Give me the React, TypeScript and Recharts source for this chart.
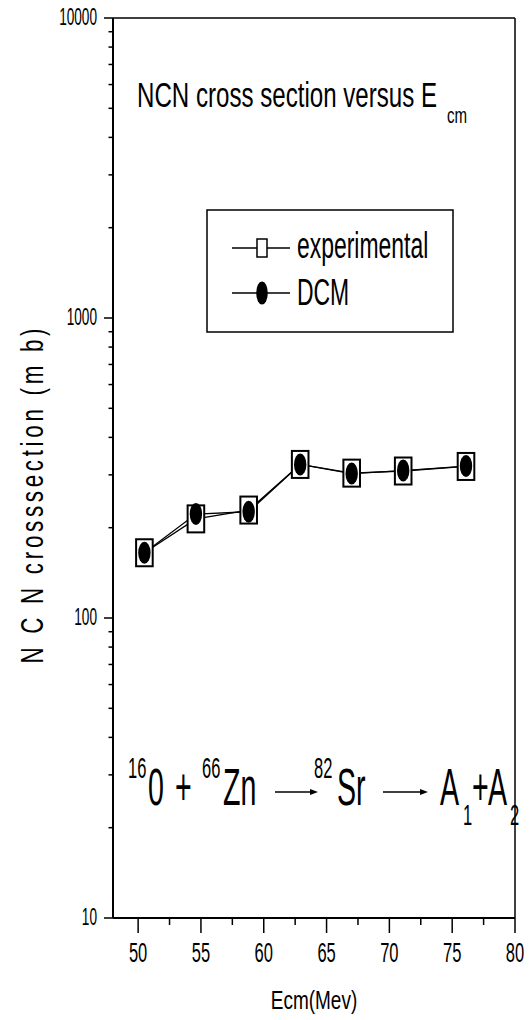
import React from 'react'
import { LineChart, Line, XAxis, YAxis, ReferenceLine } from 'recharts'

// NCN cross sections (mb) against centre-of-mass energy (MeV)
const energies = [50.5, 54.6, 58.8, 62.9, 67.0, 71.1, 76.1]
const experimental = [165, 214, 229, 325, 304, 309, 320]
const dcm = [165, 222, 226, 325, 303, 310, 321]

const xTicks = [50, 52.5, 55, 57.5, 60, 62.5, 65, 67.5, 70, 72.5, 75, 77.5, 80]
const decades = [10, 100, 1000]
const yTicks = [...decades.flatMap((d) => [1, 2, 3, 4, 5, 6, 7, 8, 9].map((m) => m * d)), 10000]

const expRows = energies.map((x, i) => ({ x, y: experimental[i] }))
const dcmRows = energies.map((x, i) => ({ x, y: dcm[i] }))

const W = 529
const H = 1020
const AXIS_X = 113 // left edge of the plot (YAxis width)
const FONT = 'Liberation Sans, Arial, sans-serif'

// the whole figure is tall and narrow, so text is squeezed horizontally
function Squeezed({ x, y, size, sx, anchor = 'start', children }: any) {
  return (
    <text transform={`translate(${x} ${y}) scale(${sx} 1)`} fontSize={size} textAnchor={anchor}
      fontFamily={FONT} fill="#000">
      {children}
    </text>
  )
}

const YTick = ({ y, payload }: any) => {
  const major = Number.isInteger(Math.log10(payload.value))
  const x = AXIS_X
  return (
    <g>
      <line x1={x - (major ? 9 : 4.5)} x2={x} y1={y} y2={y} stroke="#000" strokeWidth={1.5} />
      {major && <Squeezed x={x - 16} y={y + 7} size={23.5} sx={0.58} anchor="end">{payload.value}</Squeezed>}
    </g>
  )
}

const XTick = ({ x, y, payload }: any) => {
  const major = payload.value % 5 === 0
  return (
    <g>
      <line x1={x} x2={x} y1={y} y2={y + (major ? 15 : 7)} stroke="#000" strokeWidth={1.5} />
      {major && <Squeezed x={x} y={y + 44} size={28} sx={0.59} anchor="middle">{payload.value}</Squeezed>}
    </g>
  )
}

const squareDot = (p: any) => (
  <rect key={`sq-${p.index}`} x={p.cx - 8.3} y={p.cy - 13.5} width={16.6} height={27}
    fill="#fff" stroke="#000" strokeWidth={2} />
)

const circleDot = (p: any) => (
  <ellipse key={`ci-${p.index}`} cx={p.cx} cy={p.cy} rx={6.2} ry={11} fill="#000" />
)

function Arrow({ x1, x2, y }: { x1: number; x2: number; y: number }) {
  return (
    <g>
      <line x1={x1} x2={x2 - 6} y1={y} y2={y} stroke="#000" strokeWidth={1.5} />
      <path d={`M${x2 - 8},${y - 3} L${x2},${y} L${x2 - 8},${y + 3} Z`} fill="#000" />
    </g>
  )
}

function Annotations() {
  return (
    <svg width={W} height={H} style={{ position: 'absolute', left: 0, top: 0, pointerEvents: 'none' }}>
      {/* title */}
      <Squeezed x={137} y={107} size={36} sx={0.67}>NCN cross section versus E</Squeezed>
      <Squeezed x={447} y={123} size={22.5} sx={0.67}>cm</Squeezed>

      {/* legend */}
      <rect x={207} y={210} width={246} height={122} fill="#fff" stroke="#000" strokeWidth={1.5} />
      <line x1={232} x2={290} y1={248} y2={248} stroke="#000" strokeWidth={1.3} />
      <rect x={257} y={239} width={10} height={18} fill="#fff" stroke="#000" strokeWidth={1.5} />
      <Squeezed x={297} y={258} size={37} sx={0.62}>experimental</Squeezed>
      <line x1={232} x2={290} y1={293} y2={293} stroke="#000" strokeWidth={1.3} />
      <ellipse cx={262} cy={293} rx={5.8} ry={11.5} fill="#000" />
      <Squeezed x={297} y={305} size={37} sx={0.62}>DCM</Squeezed>

      {/* reaction */}
      <Squeezed x={128} y={778} size={30} sx={0.55}>16</Squeezed>
      <Squeezed x={148} y={805} size={52} sx={0.55}>0</Squeezed>
      <Squeezed x={175} y={805} size={52} sx={0.55}>+</Squeezed>
      <Squeezed x={202} y={778} size={30} sx={0.55}>66</Squeezed>
      <Squeezed x={223} y={805} size={52} sx={0.55}>Zn</Squeezed>
      <Arrow x1={275} x2={318} y={792} />
      <Squeezed x={314} y={778} size={30} sx={0.55}>82</Squeezed>
      <Squeezed x={337} y={805} size={52} sx={0.55}>Sr</Squeezed>
      <Arrow x1={383} x2={428} y={792} />
      <Squeezed x={440} y={805} size={52} sx={0.55}>A</Squeezed>
      <Squeezed x={463} y={825} size={30} sx={0.55}>1</Squeezed>
      <Squeezed x={472} y={805} size={52} sx={0.55}>+</Squeezed>
      <Squeezed x={488} y={805} size={52} sx={0.55}>A</Squeezed>
      <Squeezed x={510} y={825} size={30} sx={0.55}>2</Squeezed>

      {/* axis titles */}
      <Squeezed x={314} y={1009} size={25} sx={0.76} anchor="middle">Ecm(Mev)</Squeezed>
      <g transform="translate(43 496) rotate(-90)">
        <text transform="scale(0.7 1)" fontSize={32} fontFamily={FONT} textAnchor="middle"
          textLength={335 / 0.7} lengthAdjust="spacing" fill="#000">
          N C N crosssection (m b)
        </text>
      </g>
    </svg>
  )
}

export default function App() {
  return (
    <div style={{ position: 'absolute', left: 0, top: 0, width: W, height: H, background: '#fff' }}>
      <LineChart width={W} height={H} margin={{ top: 18, right: 14, bottom: 0, left: 0 }}>
        <XAxis dataKey="x" type="number" domain={[48, 80]} ticks={xTicks} interval={0}
          height={102} tick={<XTick />} tickLine={false} tickSize={0} tickMargin={0}
          axisLine={{ stroke: '#000', strokeWidth: 2 }} allowDataOverflow />
        <YAxis type="number" scale="log" domain={[10, 10000]} ticks={yTicks} interval={0}
          width={AXIS_X} tick={<YTick />} tickLine={false} tickSize={0} tickMargin={0}
          axisLine={{ stroke: '#000', strokeWidth: 2 }} allowDataOverflow />
        <ReferenceLine y={10000} stroke="#000" strokeWidth={1.5} />
        <ReferenceLine x={80} stroke="#000" strokeWidth={1.5} />
        <Line data={expRows} dataKey="y" name="experimental" type="linear" stroke="#000"
          strokeWidth={1.3} dot={squareDot} activeDot={false} isAnimationActive={false} />
        <Line data={dcmRows} dataKey="y" name="DCM" type="linear" stroke="#000"
          strokeWidth={1.3} dot={circleDot} activeDot={false} isAnimationActive={false} />
      </LineChart>
      <Annotations />
    </div>
  )
}
